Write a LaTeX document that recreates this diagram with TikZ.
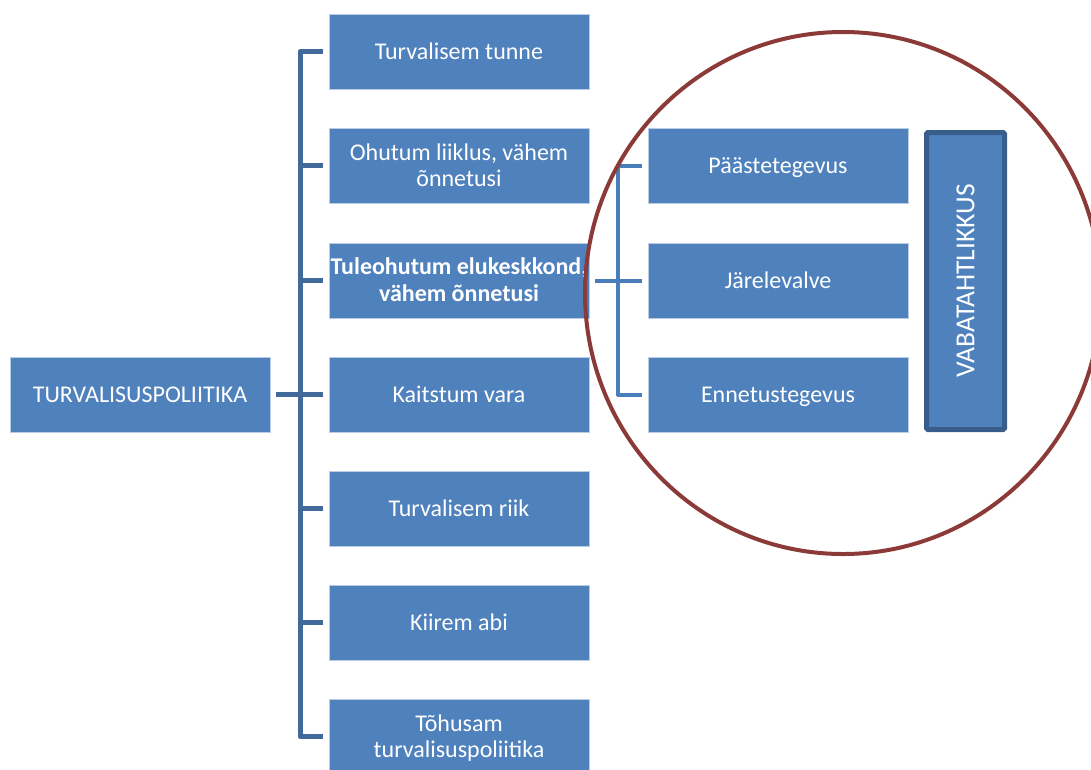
\documentclass[tikz,border=0pt]{standalone}
\usepackage{fontspec}
\setmainfont{Carlito}
\definecolor{boxfill}{HTML}{4F81BD}
\definecolor{boxedge}{HTML}{B9CDE5}
\definecolor{lbrk}{HTML}{41699A}
\definecolor{rbrk}{HTML}{4A7EBB}
\definecolor{vedge}{HTML}{385D8A}
\definecolor{ring}{HTML}{8C3A38}
\newcommand\capline[1]{\smash{#1}\rule{0pt}{15.5pt}}
\begin{document}
\begin{tikzpicture}[x=1pt,y=-1pt,
  box/.style={rectangle, fill=boxfill, draw=boxedge, line width=0.7pt,
    minimum width=260pt, minimum height=75pt, inner sep=0pt, text=white,
    align=center, font=\fontsize{24}{26}\selectfont},
  lconn/.style={draw=lbrk, line width=5pt, line join=round},
  rconn/.style={draw=rbrk, line width=4pt, line join=round},
  ringline/.style={draw=ring, line width=4pt}
]
\useasboundingbox (0,0) rectangle (1091,769);
\clip (0,0) rectangle (1091,769);

\node[box] (root) at (140,394.5) {\capline{TURVALISUSPOLIITIKA}};

\node[box] (b1) at (459,51.5) {\capline{Turvalisem tunne}};
\node[box] (b2) at (459,165.5) {\capline{Ohutum liiklus, vähem}\\\capline{õnnetusi}};
\node[box, font=\fontsize{24}{27}\selectfont\bfseries] (b3) at (459,280.5) {\capline{Tuleohutum elukeskkond,}\\\capline{vähem õnnetusi}};
\node[box] (b4) at (459,394.5) {\capline{Kaitstum vara}};
\node[box] (b5) at (459,508.5) {\capline{Turvalisem riik}};
\node[box] (b6) at (459,622.5) {\capline{Kiirem abi}};
\node[box] (b7) at (459,736.5) {\capline{Tõhusam}\\\capline{turvalisuspoliitika}};

\node[box] (r1) at (778,166) {\capline{Päästetegevus}};
\node[box] (r2) at (778,280.5) {\capline{Järelevalve}};
\node[box] (r3) at (778,394.5) {\capline{Ennetustegevus}};

\node[rectangle, rotate=90, fill=boxfill, draw=vedge, line width=5pt,
  minimum width=297pt, minimum height=78pt, inner sep=0pt, rounded corners=1.5pt,
  text=white, font=\fontsize{27.5}{30}\selectfont] (vaba) at (965.5,281) {VABATAHTLIKKUS};

\coordinate (lsp) at (300,0);
\coordinate (rsp) at (618,0);

\draw[lconn] ([xshift=-6pt]b1.west) -- (b1.west -| lsp) -- (b7.west -| lsp) -- ([xshift=-6pt]b7.west);
\foreach \b in {b2,b3,b4,b5,b6} {
  \draw[lconn] ([xshift=-6pt]\b.west) -- (\b.west -| lsp);
}
\draw[lconn] ([xshift=6pt]root.east) -- (root.east -| lsp);

\draw[rconn] ([xshift=-6pt]r1.west) -- (r1.west -| rsp) -- (r3.west -| rsp) -- ([xshift=-6pt]r3.west);
\draw[rconn] ([xshift=-6pt]r2.west) -- (r2.west -| rsp);
\draw[rconn] ([xshift=6pt]b3.east) -- (b3.east -| rsp);

\draw[ringline] (843,293) ellipse [x radius=258pt, y radius=261pt];
\end{tikzpicture}
\end{document}
